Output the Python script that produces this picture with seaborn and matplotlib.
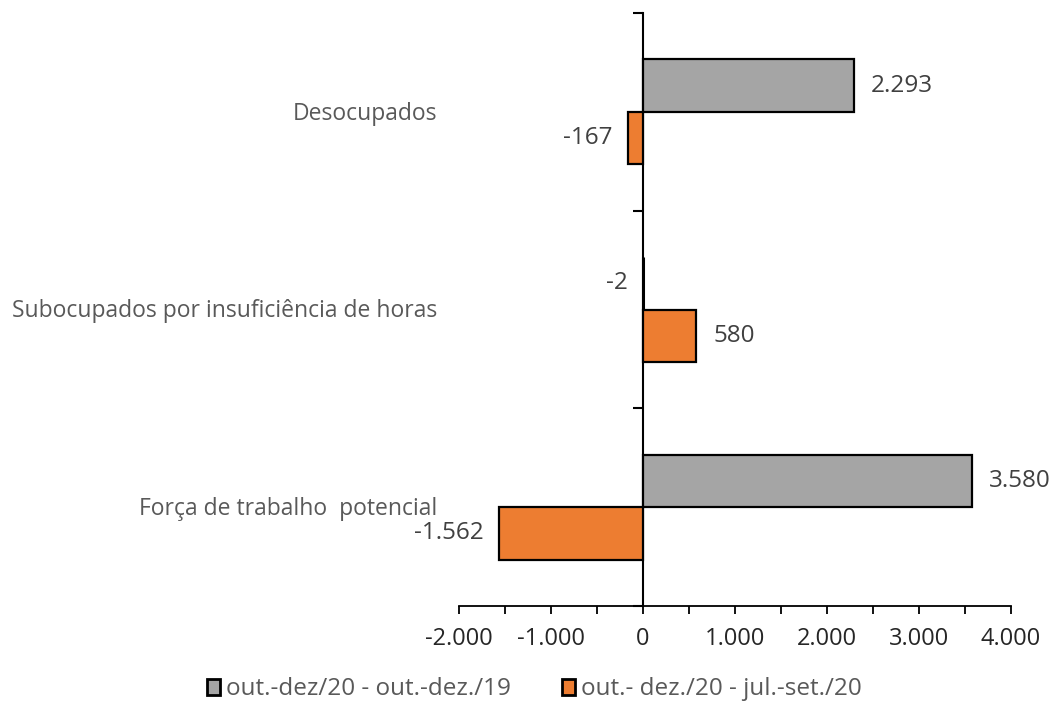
import matplotlib
matplotlib.use("Agg")
import matplotlib.pyplot as plt
import matplotlib.transforms as mtransforms
from matplotlib.patches import Patch
from matplotlib.ticker import MultipleLocator, FuncFormatter
import seaborn as sns
import pandas as pd

categorias = ["Desocupados",
              "Subocupados por insuficiência de horas",
              "Força de trabalho  potencial"]
series = ["out.-dez/20 - out.-dez./19", "out.- dez./20 - jul.-set./20"]
anual = [2293, -2, 3580]
trimestral = [-167, 580, -1562]
cores = ["#A5A5A5", "#ED7D31"]

df = pd.DataFrame({
    "categoria": categorias * 2,
    "serie": [series[0]] * 3 + [series[1]] * 3,
    "valor": anual + trimestral,
})

sns.set_theme(style="white")
plt.rcParams["font.family"] = ["Open Sans", "DejaVu Sans"]

fig = plt.figure(figsize=(10.52, 7.05), dpi=100)
ax = fig.add_axes([459 / 1052, 1 - 606 / 705, 552 / 1052, 593 / 705])

sns.barplot(data=df, x="valor", y="categoria", hue="serie", order=categorias,
            hue_order=series, palette=cores, saturation=1, orient="h",
            width=0.53, edgecolor="black", linewidth=1.6, legend=False, ax=ax)

fmt = lambda v: f"{v:,.0f}".replace(",", ".")

ax.set_xlim(-2000, 4000)
ax.set_ylim(2.5, -0.5)
ax.xaxis.set_major_locator(MultipleLocator(1000))
ax.xaxis.set_minor_locator(MultipleLocator(500))
ax.xaxis.set_major_formatter(FuncFormatter(lambda v, p: fmt(v)))
ax.set_yticks([-0.5, 0.5, 1.5, 2.5])
ax.set_yticklabels([])
ax.set_xlabel("")
ax.set_ylabel("")

for s in ["top", "right"]:
    ax.spines[s].set_visible(False)
ax.spines["left"].set_position(("data", 0))
ax.spines["left"].set_color("black")
ax.spines["left"].set_linewidth(1.5)
ax.spines["bottom"].set_color("black")
ax.spines["bottom"].set_linewidth(1.3)
for p in ax.patches:
    p.set_zorder(3)
    if abs(p.get_width()) < 50:
        p.set_linewidth(2.2)

ax.tick_params(axis="x", which="both", direction="out", length=6, width=1.3,
               color="black", labelsize=17, labelcolor="#262626", pad=9,
               bottom=True)
ax.tick_params(axis="y", direction="out", length=7, width=1.5, color="black",
               left=True)

# value labels
for cont in ax.containers:
    for bar in cont:
        v = bar.get_width()
        y = bar.get_y() + bar.get_height() / 2
        off = 12 if v >= 0 else -11
        ax.annotate(fmt(v), (v, y), xytext=(off, 0), textcoords="offset points",
                    ha="left" if v >= 0 else "right", va="center",
                    fontsize=17.5, color="#404040")

# category labels at the left
trans = mtransforms.blended_transform_factory(ax.transAxes, ax.transData)
for i, c in enumerate(categorias):
    ax.text(-0.04, i + 0.01, c, transform=trans, ha="right", va="center",
            fontsize=16.5, color="#595959")

handles = [Patch(facecolor=cores[0], edgecolor="black", linewidth=2),
           Patch(facecolor=cores[1], edgecolor="black", linewidth=2)]
leg = fig.legend(handles, series, loc="lower center", bbox_to_anchor=(0.508, -0.026),
                 ncol=2, frameon=False, handlelength=0.55, handleheight=0.65,
                 handletextpad=0.25, columnspacing=2.1, fontsize=17.5)
for t in leg.get_texts():
    t.set_color("#595959")

fig.savefig("out.png", dpi=100)
